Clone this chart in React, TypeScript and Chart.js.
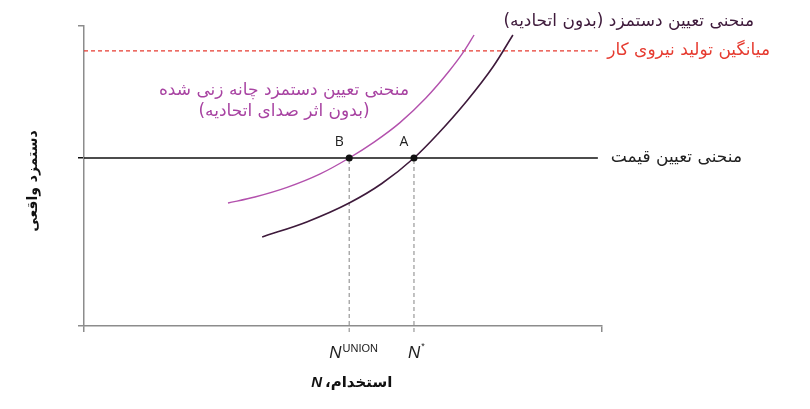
import { useEffect, useRef } from "react";
import { Chart, registerables } from "chart.js";

Chart.register(...registerables);

// Employment levels (x) and real wage levels (y), axis spans 0..10
const N_UNION = 5.12;
const N_STAR = 6.37;
const PRICE_WAGE = 5.6;
const LABOUR_PRODUCTIVITY = 9.17;
const X_MAX = 10;
const Y_MAX = 10;
const LINE_END = 9.92;

// Wage-setting curve without union
const wsX = [3.44, 4.3, 5.12, 5.75, 6.37, 6.83, 7.39, 7.9, 8.28];
const wsY = [2.97, 3.47, 4.1, 4.75, 5.6, 6.4, 7.5, 8.65, 9.7];

// Bargained wage-setting curve (no union voice effect)
const bwsX = [2.78, 3.3, 3.92, 4.56, 5.12, 5.6, 6.1, 6.6, 7.05, 7.34, 7.53];
const bwsY = [4.1, 4.3, 4.62, 5.07, 5.6, 6.13, 6.78, 7.6, 8.5, 9.17, 9.7];

const pointLabels = ["B", "A"];
const pointX = [N_UNION, N_STAR];

const FA = "'DejaVu Sans', sans-serif";
const GRAY = "#8c8c8c";
const DARK = "#3e1a3b";
const MAGENTA = "#b351ad";
const RED = "#e63b30";

const textPlugin = {
  id: "labels",
  afterDatasetsDraw(chart: Chart) {
    const { ctx } = chart;
    const xs = chart.scales.x;
    const ys = chart.scales.y;
    const px = (v: number) => xs.getPixelForValue(v);
    const py = (v: number) => ys.getPixelForValue(v);
    ctx.save();
    ctx.textBaseline = "middle";

    // A and B
    ctx.fillStyle = "#222";
    ctx.font = "14px 'Open Sans', sans-serif";
    ctx.textAlign = "center";
    pointLabels.forEach((t, i) => {
      ctx.fillText(t, px(pointX[i]) - 10, py(PRICE_WAGE) - 16);
    });

    // N labels under the axis
    const base = py(0) + 27;
    ctx.textAlign = "left";
    ctx.font = "italic 17px 'Liberation Sans', sans-serif";
    const nW = ctx.measureText("N").width;
    ctx.fillText("N", px(N_UNION) - 20, base);
    ctx.font = "11px 'Liberation Sans', sans-serif";
    ctx.fillText("UNION", px(N_UNION) - 20 + nW + 1, base - 4);
    ctx.font = "italic 17px 'Liberation Sans', sans-serif";
    ctx.fillText("N", px(N_STAR) - 6, base);
    ctx.font = "9px 'Liberation Sans', sans-serif";
    ctx.fillText("*", px(N_STAR) - 6 + nW + 1, base - 6);

    // x title
    ctx.direction = "rtl";
    ctx.font = `bold 15px ${FA}`;
    ctx.textAlign = "left";
    ctx.fillStyle = "#111";
    ctx.fillText("استخدام،", 325, 383);
    ctx.direction = "ltr";
    ctx.font = "bold italic 15px 'Liberation Sans', sans-serif";
    ctx.textAlign = "right";
    ctx.fillText("N", 322, 383);

    // y title
    ctx.save();
    ctx.translate(33, 181);
    ctx.rotate(-Math.PI / 2);
    ctx.direction = "rtl";
    ctx.textAlign = "center";
    ctx.font = `bold 14px ${FA}`;
    ctx.fillText("دستمزد واقعی", 0, 0);
    ctx.restore();

    // curve and line labels
    ctx.direction = "rtl";
    ctx.font = `17px ${FA}`;
    ctx.textAlign = "right";
    ctx.fillStyle = DARK;
    ctx.fillText("منحنی تعیین دستمزد (بدون اتحادیه)", 754, 22);
    ctx.fillStyle = RED;
    ctx.fillText("میانگین تولید نیروی کار", 770, py(LABOUR_PRODUCTIVITY));
    ctx.fillStyle = "#222";
    ctx.fillText("منحنی تعیین قیمت", 742, py(PRICE_WAGE));
    ctx.fillStyle = "#a843a2";
    ctx.textAlign = "center";
    ctx.fillText("منحنی تعیین دستمزد چانه زنی شده", 284, 91);
    ctx.fillText("(بدون اثر صدای اتحادیه)", 284, 112);
    ctx.restore();
  },
};

export default function App() {
  const canvasRef = useRef<HTMLCanvasElement>(null);

  useEffect(() => {
    document.body.style.margin = "0";
    if (!canvasRef.current) return;
    const chart = new Chart(canvasRef.current, {
      type: "scatter",
      data: {
        datasets: [
          {
            label: "points",
            data: pointX.map((x) => ({ x, y: PRICE_WAGE })),
            pointRadius: 3.5,
            pointBackgroundColor: "#111",
            pointBorderWidth: 0,
            showLine: false,
            order: 0,
          },
          {
            label: "ws",
            data: wsX.map((x, i) => ({ x, y: wsY[i] })),
            showLine: true,
            borderColor: DARK,
            borderWidth: 1.6,
            pointRadius: 0,
            cubicInterpolationMode: "monotone",
            order: 1,
          },
          {
            label: "bws",
            data: bwsX.map((x, i) => ({ x, y: bwsY[i] })),
            showLine: true,
            borderColor: MAGENTA,
            borderWidth: 1.4,
            pointRadius: 0,
            cubicInterpolationMode: "monotone",
            order: 2,
          },
          {
            label: "price",
            data: [
              { x: 0, y: PRICE_WAGE },
              { x: LINE_END, y: PRICE_WAGE },
            ],
            showLine: true,
            borderColor: "#111",
            borderWidth: 1.4,
            pointRadius: 0,
            order: 3,
          },
          {
            label: "productivity",
            data: [
              { x: 0, y: LABOUR_PRODUCTIVITY },
              { x: LINE_END, y: LABOUR_PRODUCTIVITY },
            ],
            showLine: true,
            borderColor: RED,
            borderWidth: 1.2,
            borderDash: [4, 3],
            pointRadius: 0,
            order: 4,
          },
          {
            label: "nUnion",
            data: [
              { x: N_UNION, y: -0.2 },
              { x: N_UNION, y: PRICE_WAGE },
            ],
            showLine: true,
            borderColor: "#999",
            borderWidth: 1.2,
            borderDash: [4, 3],
            pointRadius: 0,
            clip: false,
            order: 5,
          },
          {
            label: "nStar",
            data: [
              { x: N_STAR, y: -0.2 },
              { x: N_STAR, y: PRICE_WAGE },
            ],
            showLine: true,
            borderColor: "#999",
            borderWidth: 1.2,
            borderDash: [4, 3],
            pointRadius: 0,
            clip: false,
            order: 6,
          },
        ],
      },
      options: {
        responsive: true,
        maintainAspectRatio: false,
        animation: false,
        layout: { padding: { left: 78, right: 208, top: 26, bottom: 77 } },
        plugins: { legend: { display: false }, tooltip: { enabled: false } },
        scales: {
          x: {
            type: "linear",
            min: 0,
            max: X_MAX,
            afterBuildTicks: (s: any) => {
              s.ticks = [0, X_MAX].map((value) => ({ value }));
            },
            ticks: { display: false },
            grid: {
              drawOnChartArea: false,
              drawTicks: true,
              tickLength: 6,
              color: GRAY,
              lineWidth: 1.5,
            },
            border: { display: true, color: GRAY, width: 1.5 },
          },
          y: {
            type: "linear",
            min: 0,
            max: Y_MAX,
            afterBuildTicks: (s: any) => {
              s.ticks = [0, PRICE_WAGE, Y_MAX].map((value) => ({ value }));
            },
            ticks: { display: false },
            grid: {
              drawOnChartArea: false,
              drawTicks: true,
              tickLength: 6,
              color: (c: any) => (c.tick && c.tick.value === PRICE_WAGE ? "#111" : GRAY),
              lineWidth: 1.5,
            },
            border: { display: true, color: GRAY, width: 1.5 },
          },
        },
      },
      plugins: [textPlugin],
    });
    return () => chart.destroy();
  }, []);

  return (
    <div style={{ width: 810, height: 409, position: "relative", background: "#fff" }}>
      <canvas ref={canvasRef} />
    </div>
  );
}
